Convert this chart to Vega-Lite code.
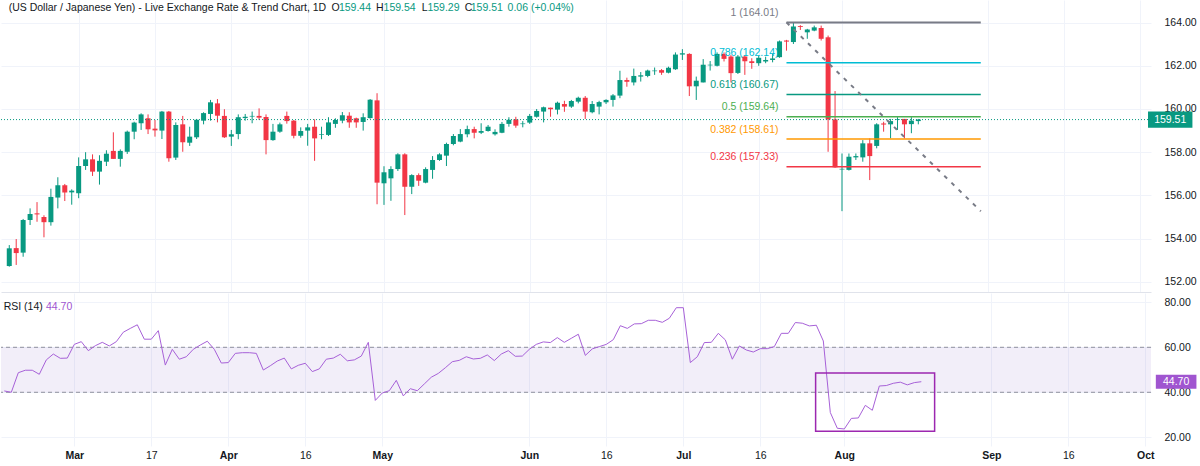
{
  "$schema": "https://vega.github.io/schema/vega-lite/v6.json",
  "background": "white",
  "padding": 0,
  "config": {
    "view": {"stroke": null},
    "concat": {"spacing": 1},
    "font": "Liberation Sans",
    "text": {"font": "Liberation Sans", "fontSize": 10.5},
    "axis": {"labelFont": "Liberation Sans", "labelFontSize": 10.5, "labelColor": "#131722", "ticks": false, "domain": false, "gridColor": "#f0f3fa"}
  },
  "datasets": {
    "candles": [
      {"i":0,"o":152.73,"h":153.70,"l":152.70,"c":153.55},
      {"i":1,"o":153.56,"h":153.98,"l":152.78,"c":153.33},
      {"i":2,"o":153.35,"h":154.91,"l":153.16,"c":154.86},
      {"i":3,"o":154.86,"h":155.40,"l":154.63,"c":155.14},
      {"i":4,"o":155.17,"h":155.69,"l":154.78,"c":155.12},
      {"i":5,"o":155.00,"h":155.08,"l":154.06,"c":154.76},
      {"i":6,"o":154.76,"h":156.31,"l":154.60,"c":155.93},
      {"i":7,"o":155.90,"h":156.84,"l":155.40,"c":156.47},
      {"i":8,"o":156.47,"h":156.53,"l":155.74,"c":156.14},
      {"i":9,"o":156.14,"h":156.28,"l":155.57,"c":156.22},
      {"i":10,"o":156.10,"h":157.76,"l":155.87,"c":157.36},
      {"i":11,"o":157.36,"h":158.00,"l":157.18,"c":157.67},
      {"i":12,"o":157.67,"h":157.90,"l":156.90,"c":157.10},
      {"i":13,"o":157.10,"h":157.86,"l":156.50,"c":157.60},
      {"i":14,"o":157.56,"h":158.09,"l":157.36,"c":157.93},
      {"i":15,"o":158.06,"h":158.92,"l":157.69,"c":157.69},
      {"i":16,"o":157.69,"h":158.13,"l":157.33,"c":158.06},
      {"i":17,"o":158.02,"h":159.00,"l":157.92,"c":158.95},
      {"i":18,"o":158.95,"h":159.41,"l":158.60,"c":159.37},
      {"i":19,"o":159.34,"h":159.80,"l":159.03,"c":159.75},
      {"i":20,"o":159.57,"h":159.75,"l":158.84,"c":159.06},
      {"i":21,"o":159.09,"h":159.49,"l":158.72,"c":159.01},
      {"i":22,"o":159.00,"h":159.91,"l":158.61,"c":159.88},
      {"i":23,"o":159.88,"h":159.91,"l":157.56,"c":157.72},
      {"i":24,"o":157.75,"h":159.38,"l":157.64,"c":159.26},
      {"i":25,"o":159.29,"h":159.68,"l":158.02,"c":158.46},
      {"i":26,"o":158.44,"h":159.18,"l":158.29,"c":158.72},
      {"i":27,"o":158.69,"h":159.54,"l":158.61,"c":159.50},
      {"i":28,"o":159.46,"h":159.85,"l":159.29,"c":159.81},
      {"i":29,"o":159.77,"h":160.42,"l":159.46,"c":160.31},
      {"i":30,"o":160.26,"h":160.46,"l":159.38,"c":159.69},
      {"i":31,"o":159.68,"h":159.99,"l":158.66,"c":158.69},
      {"i":32,"o":158.72,"h":159.03,"l":158.29,"c":158.83},
      {"i":33,"o":158.84,"h":159.75,"l":158.60,"c":159.62},
      {"i":34,"o":159.58,"h":159.77,"l":159.46,"c":159.64},
      {"i":35,"o":159.65,"h":159.88,"l":159.34,"c":159.68},
      {"i":36,"o":159.68,"h":160.03,"l":159.49,"c":159.60},
      {"i":37,"o":159.63,"h":159.75,"l":157.90,"c":158.56},
      {"i":38,"o":158.56,"h":159.31,"l":158.53,"c":158.95},
      {"i":39,"o":158.95,"h":159.37,"l":158.90,"c":159.29},
      {"i":40,"o":159.68,"h":159.88,"l":159.32,"c":159.44},
      {"i":41,"o":159.46,"h":159.49,"l":158.64,"c":158.76},
      {"i":42,"o":158.76,"h":159.15,"l":158.67,"c":158.98},
      {"i":43,"o":159.00,"h":159.31,"l":158.30,"c":159.15},
      {"i":44,"o":159.18,"h":159.52,"l":157.60,"c":158.64},
      {"i":45,"o":158.81,"h":159.18,"l":158.60,"c":158.84},
      {"i":46,"o":158.80,"h":159.62,"l":158.75,"c":159.38},
      {"i":47,"o":159.31,"h":159.57,"l":159.13,"c":159.49},
      {"i":48,"o":159.46,"h":159.86,"l":159.34,"c":159.71},
      {"i":49,"o":159.69,"h":159.85,"l":159.13,"c":159.38},
      {"i":50,"o":159.57,"h":159.60,"l":159.13,"c":159.38},
      {"i":51,"o":159.40,"h":159.80,"l":159.00,"c":159.62},
      {"i":52,"o":159.58,"h":160.46,"l":159.55,"c":160.43},
      {"i":53,"o":160.40,"h":160.73,"l":155.59,"c":156.59},
      {"i":54,"o":156.56,"h":157.35,"l":155.56,"c":157.07},
      {"i":55,"o":156.79,"h":157.35,"l":155.75,"c":157.22},
      {"i":56,"o":157.22,"h":157.95,"l":157.13,"c":157.90},
      {"i":57,"o":157.90,"h":157.95,"l":155.09,"c":156.40},
      {"i":58,"o":156.40,"h":156.98,"l":156.06,"c":156.94},
      {"i":59,"o":156.94,"h":157.02,"l":156.44,"c":156.68},
      {"i":60,"o":156.59,"h":157.30,"l":156.56,"c":157.22},
      {"i":61,"o":157.18,"h":157.82,"l":156.77,"c":157.64},
      {"i":62,"o":157.64,"h":157.95,"l":157.60,"c":157.90},
      {"i":63,"o":157.84,"h":158.44,"l":157.36,"c":158.38},
      {"i":64,"o":158.38,"h":158.84,"l":158.32,"c":158.75},
      {"i":65,"o":158.49,"h":159.07,"l":158.46,"c":158.84},
      {"i":66,"o":158.83,"h":159.23,"l":158.69,"c":159.07},
      {"i":67,"o":159.07,"h":159.18,"l":158.64,"c":158.90},
      {"i":68,"o":158.90,"h":159.34,"l":158.84,"c":158.98},
      {"i":69,"o":158.98,"h":159.26,"l":158.95,"c":159.18},
      {"i":70,"o":158.83,"h":159.06,"l":158.77,"c":158.94},
      {"i":71,"o":158.90,"h":159.40,"l":158.88,"c":159.31},
      {"i":72,"o":159.31,"h":159.62,"l":159.18,"c":159.50},
      {"i":73,"o":159.52,"h":159.64,"l":159.13,"c":159.23},
      {"i":74,"o":159.30,"h":159.44,"l":159.15,"c":159.33},
      {"i":75,"o":159.37,"h":159.77,"l":159.31,"c":159.68},
      {"i":76,"o":159.64,"h":160.00,"l":159.60,"c":159.91},
      {"i":77,"o":159.88,"h":160.11,"l":159.38,"c":160.08},
      {"i":78,"o":160.06,"h":160.06,"l":159.64,"c":159.99},
      {"i":79,"o":159.97,"h":160.34,"l":159.75,"c":160.29},
      {"i":80,"o":160.23,"h":160.38,"l":159.87,"c":160.11},
      {"i":81,"o":160.11,"h":160.42,"l":160.05,"c":160.37},
      {"i":82,"o":160.34,"h":160.57,"l":160.26,"c":160.52},
      {"i":83,"o":160.52,"h":160.60,"l":159.54,"c":159.88},
      {"i":84,"o":159.85,"h":160.37,"l":159.80,"c":160.23},
      {"i":85,"o":160.11,"h":160.38,"l":159.75,"c":160.32},
      {"i":86,"o":160.31,"h":160.45,"l":160.23,"c":160.42},
      {"i":87,"o":160.42,"h":160.69,"l":160.11,"c":160.63},
      {"i":88,"o":160.62,"h":161.77,"l":160.50,"c":161.34},
      {"i":89,"o":161.34,"h":161.45,"l":161.03,"c":161.26},
      {"i":90,"o":161.23,"h":161.87,"l":161.09,"c":161.53},
      {"i":91,"o":161.50,"h":161.71,"l":161.27,"c":161.56},
      {"i":92,"o":161.53,"h":161.82,"l":161.47,"c":161.78},
      {"i":93,"o":161.75,"h":161.92,"l":161.58,"c":161.78},
      {"i":94,"o":161.80,"h":161.85,"l":161.58,"c":161.68},
      {"i":95,"o":161.68,"h":161.96,"l":161.65,"c":161.91},
      {"i":96,"o":161.84,"h":162.62,"l":161.81,"c":162.52},
      {"i":97,"o":162.52,"h":162.77,"l":162.27,"c":162.58},
      {"i":98,"o":162.55,"h":162.58,"l":160.60,"c":161.05},
      {"i":99,"o":161.05,"h":161.50,"l":160.42,"c":161.31},
      {"i":100,"o":161.23,"h":162.31,"l":161.23,"c":162.05},
      {"i":101,"o":162.02,"h":162.22,"l":161.78,"c":162.05},
      {"i":102,"o":162.00,"h":162.62,"l":161.97,"c":162.55},
      {"i":103,"o":162.55,"h":162.62,"l":162.20,"c":162.32},
      {"i":104,"o":162.43,"h":162.50,"l":161.23,"c":161.66},
      {"i":105,"o":161.67,"h":162.50,"l":161.62,"c":162.43},
      {"i":106,"o":162.43,"h":162.50,"l":161.58,"c":162.21},
      {"i":107,"o":162.21,"h":162.35,"l":161.86,"c":162.13},
      {"i":108,"o":162.12,"h":162.47,"l":162.00,"c":162.37},
      {"i":109,"o":162.20,"h":162.42,"l":162.12,"c":162.27},
      {"i":110,"o":162.27,"h":162.55,"l":162.16,"c":162.34},
      {"i":111,"o":162.40,"h":163.17,"l":162.37,"c":163.13},
      {"i":112,"o":163.17,"h":163.20,"l":162.70,"c":163.12},
      {"i":113,"o":163.10,"h":164.01,"l":163.01,"c":163.82},
      {"i":114,"o":163.84,"h":163.88,"l":163.66,"c":163.80},
      {"i":115,"o":163.55,"h":163.71,"l":163.25,"c":163.68},
      {"i":116,"o":163.63,"h":163.86,"l":163.60,"c":163.78},
      {"i":117,"o":163.75,"h":163.86,"l":163.17,"c":163.25},
      {"i":118,"o":163.32,"h":163.40,"l":158.02,"c":159.52},
      {"i":119,"o":159.52,"h":160.83,"l":157.28,"c":157.30},
      {"i":120,"o":157.20,"h":157.94,"l":155.27,"c":157.23},
      {"i":121,"o":157.18,"h":157.94,"l":157.15,"c":157.79},
      {"i":122,"o":157.76,"h":157.94,"l":157.64,"c":157.82},
      {"i":123,"o":157.76,"h":158.56,"l":157.56,"c":158.41},
      {"i":124,"o":158.41,"h":158.64,"l":156.71,"c":157.82},
      {"i":125,"o":158.29,"h":159.34,"l":158.18,"c":159.29},
      {"i":126,"o":159.33,"h":159.41,"l":158.95,"c":159.28},
      {"i":127,"o":159.29,"h":159.54,"l":158.64,"c":159.44},
      {"i":128,"o":159.50,"h":159.62,"l":159.03,"c":159.53},
      {"i":129,"o":159.54,"h":159.54,"l":158.64,"c":159.29},
      {"i":130,"o":159.30,"h":159.62,"l":158.88,"c":159.46},
      {"i":131,"o":159.44,"h":159.54,"l":159.29,"c":159.51}
    ],
    "rsi": [
      {"i":0,"r":40.6},{"i":1,"r":40.0},{"i":2,"r":48.7},{"i":3,"r":49.8},{"i":4,"r":49.8},{"i":5,"r":48.0},
      {"i":6,"r":54.4},{"i":7,"r":57.0},{"i":8,"r":55.1},{"i":9,"r":55.2},{"i":10,"r":61.3},{"i":11,"r":62.5},
      {"i":12,"r":58.5},{"i":13,"r":60.7},{"i":14,"r":62.2},{"i":15,"r":60.6},{"i":16,"r":62.5},{"i":17,"r":66.7},
      {"i":18,"r":68.4},{"i":19,"r":70.0},{"i":20,"r":63.6},{"i":21,"r":63.6},{"i":22,"r":67.4},{"i":23,"r":52.1},
      {"i":24,"r":59.1},{"i":25,"r":54.7},{"i":26,"r":55.8},{"i":27,"r":59.1},{"i":28,"r":61.0},{"i":29,"r":62.7},
      {"i":30,"r":59.1},{"i":31,"r":53.0},{"i":32,"r":53.2},{"i":33,"r":57.3},{"i":34,"r":57.6},{"i":35,"r":57.6},
      {"i":36,"r":57.3},{"i":37,"r":49.9},{"i":38,"r":51.8},{"i":39,"r":53.9},{"i":40,"r":55.2},{"i":41,"r":50.4},
      {"i":42,"r":52.0},{"i":43,"r":52.9},{"i":44,"r":49.2},{"i":45,"r":50.4},{"i":46,"r":54.7},{"i":47,"r":55.2},
      {"i":48,"r":56.9},{"i":49,"r":54.0},{"i":50,"r":54.4},{"i":51,"r":56.1},{"i":52,"r":62.2},{"i":53,"r":36.4},
      {"i":54,"r":39.7},{"i":55,"r":40.7},{"i":56,"r":45.3},{"i":57,"r":38.4},{"i":58,"r":41.6},{"i":59,"r":40.7},
      {"i":60,"r":43.7},{"i":61,"r":46.7},{"i":62,"r":48.4},{"i":63,"r":50.9},{"i":64,"r":53.6},{"i":65,"r":54.2},
      {"i":66,"r":55.8},{"i":67,"r":54.8},{"i":68,"r":55.1},{"i":69,"r":56.6},{"i":70,"r":54.1},{"i":71,"r":57.0},
      {"i":72,"r":58.5},{"i":73,"r":56.0},{"i":74,"r":56.1},{"i":75,"r":59.1},{"i":76,"r":61.3},{"i":77,"r":62.4},
      {"i":78,"r":62.1},{"i":79,"r":64.3},{"i":80,"r":62.2},{"i":81,"r":64.0},{"i":82,"r":65.8},{"i":83,"r":56.4},
      {"i":84,"r":59.3},{"i":85,"r":60.3},{"i":86,"r":61.3},{"i":87,"r":63.4},{"i":88,"r":69.6},{"i":89,"r":68.4},
      {"i":90,"r":70.4},{"i":91,"r":70.5},{"i":92,"r":72.0},{"i":93,"r":72.0},{"i":94,"r":71.1},{"i":95,"r":72.9},
      {"i":96,"r":77.6},{"i":97,"r":77.6},{"i":98,"r":53.2},{"i":99,"r":55.8},{"i":100,"r":62.1},{"i":101,"r":62.2},
      {"i":102,"r":66.2},{"i":103,"r":63.3},{"i":104,"r":54.7},{"i":105,"r":60.6},{"i":106,"r":58.8},{"i":107,"r":57.9},
      {"i":108,"r":59.4},{"i":109,"r":59.4},{"i":110,"r":60.3},{"i":111,"r":66.2},{"i":112,"r":66.2},{"i":113,"r":71.0},
      {"i":114,"r":70.7},{"i":115,"r":69.5},{"i":116,"r":69.8},{"i":117,"r":62.8},{"i":118,"r":31.0},{"i":119,"r":24.0},
      {"i":120,"r":23.7},{"i":121,"r":28.4},{"i":122,"r":28.6},{"i":123,"r":34.2},{"i":124,"r":32.0},{"i":125,"r":42.8},
      {"i":126,"r":43.0},{"i":127,"r":44.0},{"i":128,"r":44.5},{"i":129,"r":43.3},{"i":130,"r":44.3},{"i":131,"r":44.7}
    ],
    "fib": [
      {"level":"1","p":164.01,"i":112,"i2":140,"label":"1 (164.01)"},
      {"level":"0.786","p":162.14,"i":112,"i2":140,"label":"0.786 (162.14)"},
      {"level":"0.618","p":160.67,"i":112,"i2":140,"label":"0.618 (160.67)"},
      {"level":"0.5","p":159.64,"i":112,"i2":140,"label":"0.5 (159.64)"},
      {"level":"0.382","p":158.61,"i":112,"i2":140,"label":"0.382 (158.61)"},
      {"level":"0.236","p":157.33,"i":112,"i2":140,"label":"0.236 (157.33)"}
    ],
    "trend": [{"i":112,"p":164.01},{"i":140,"p":155.27}],
    "last": [{"p":159.51,"i":164.1,"i2":170.5,"ic":167.3,"top":159.88,"bot":159.13,"t":"159.51"}],
    "legend": [
      {"t":"(US Dollar / Japanese Yen) - Live Exchange Rate & Trend Chart, 1D","i":-0.09,"p":164.66,"k":"name"},
      {"t":"O","i":46.43,"p":164.66,"k":"name"},
      {"t":"159.44","i":47.5,"p":164.66,"k":"val"},
      {"t":"H","i":52.86,"p":164.66,"k":"name"},
      {"t":"159.54","i":53.94,"p":164.66,"k":"val"},
      {"t":"L","i":59.43,"p":164.66,"k":"name"},
      {"t":"159.29","i":60.26,"p":164.66,"k":"val"},
      {"t":"C","i":65.63,"p":164.66,"k":"name"},
      {"t":"159.51","i":66.5,"p":164.66,"k":"val"},
      {"t":"0.06 (+0.04%)","i":71.81,"p":164.66,"k":"val"}
    ],
    "rsiLegend": [
      {"t":"RSI (14)","i":-0.09,"r":77.8,"k":"name"},
      {"t":"44.70","i":5.96,"r":77.8,"k":"val"}
    ],
    "rsiTag": [{"r":44.7,"i":164.5,"i2":170.3,"ic":167.4,"top":47.8,"bot":41.6,"t":"44.70"}],
    "rsiBox": [{"i":115.9,"i2":132.9,"top":48.6,"bot":22.7}],
    "levels": [{"r":40},{"r":60}],
    "band": [{"lo":40,"hi":60}]
  },
  "vconcat": [
    {
      "width": 1150,
      "height": 292,
      "layer": [
        {
          "data": {"name": "candles"},
          "mark": {"type": "rule", "strokeWidth": 1},
          "encoding": {
            "x": {"field": "i", "type": "quantitative", "title": null,
                  "scale": {"domain": [-0.471, 163.81], "nice": false, "zero": false},
                  "axis": {"values": [10,21,32,43,54,75,86,97,108,120,141,152,163], "labels": false, "grid": true, "domain": true, "domainColor": "#e0e3eb"}},
            "y": {"field": "l", "type": "quantitative", "title": null,
                  "scale": {"domain": [151.528, 165.046], "nice": false, "zero": false},
                  "axis": {"orient": "right", "values": [152,154,156,158,160,162,164], "format": ".2f", "labelPadding": 13, "grid": true}},
            "y2": {"field": "h"},
            "color": {"condition": {"test": "datum.c >= datum.o", "value": "#089981"}, "value": "#f23645"}
          }
        },
        {
          "data": {"name": "candles"},
          "mark": {"type": "bar", "size": 5},
          "encoding": {
            "x": {"field": "i", "type": "quantitative", "title": null},
            "y": {"field": "o", "type": "quantitative", "title": null},
            "y2": {"field": "c"},
            "color": {"condition": {"test": "datum.c >= datum.o", "value": "#089981"}, "value": "#f23645"}
          }
        },
        {
          "data": {"name": "last"},
          "mark": {"type": "rule", "color": "#089981", "strokeDash": [1, 2], "strokeWidth": 1},
          "encoding": {"y": {"field": "p", "type": "quantitative", "title": null}}
        },
        {
          "data": {"name": "fib"},
          "mark": {"type": "rule"},
          "encoding": {
            "x": {"field": "i", "type": "quantitative", "title": null},
            "x2": {"field": "i2"},
            "y": {"field": "p", "type": "quantitative", "title": null},
            "color": {"field": "level", "type": "nominal", "legend": null,
                      "scale": {"domain": ["1","0.786","0.618","0.5","0.382","0.236"], "range": ["#787b86","#00bcd4","#089981","#4caf50","#ff9800","#f23645"]}},
            "strokeWidth": {"condition": {"test": "datum.level == '1'", "value": 2}, "value": 1.5}
          }
        },
        {
          "data": {"name": "fib"},
          "mark": {"type": "text", "align": "right", "baseline": "middle", "dx": -8, "dy": -9.5, "fontSize": 10.5},
          "encoding": {
            "x": {"field": "i", "type": "quantitative", "title": null},
            "y": {"field": "p", "type": "quantitative", "title": null},
            "text": {"field": "label"},
            "color": {"field": "level", "type": "nominal", "legend": null}
          }
        },
        {
          "data": {"name": "trend"},
          "mark": {"type": "line", "color": "#787b86", "strokeDash": [4, 6], "strokeWidth": 2},
          "encoding": {
            "x": {"field": "i", "type": "quantitative", "title": null},
            "y": {"field": "p", "type": "quantitative", "title": null}
          }
        },
        {
          "data": {"name": "last"},
          "mark": {"type": "rect", "color": "#089981"},
          "encoding": {
            "x": {"field": "i", "type": "quantitative", "title": null},
            "x2": {"field": "i2"},
            "y": {"field": "top", "type": "quantitative", "title": null},
            "y2": {"field": "bot"}
          }
        },
        {
          "data": {"name": "last"},
          "mark": {"type": "text", "color": "white", "align": "center", "baseline": "middle", "fontSize": 10.5},
          "encoding": {
            "x": {"field": "ic", "type": "quantitative", "title": null},
            "y": {"field": "p", "type": "quantitative", "title": null},
            "text": {"field": "t"}
          }
        },
        {
          "data": {"name": "legend"},
          "mark": {"type": "text", "align": "left", "baseline": "middle", "fontSize": 10.5},
          "encoding": {
            "x": {"field": "i", "type": "quantitative", "title": null},
            "y": {"field": "p", "type": "quantitative", "title": null},
            "text": {"field": "t"},
            "color": {"condition": {"test": "datum.k == 'val'", "value": "#089981"}, "value": "#131722"}
          }
        }
      ]
    },
    {
      "width": 1150,
      "height": 153,
      "layer": [
        {
          "data": {"name": "band"},
          "mark": {"type": "rect", "color": "#7e57c2", "opacity": 0.1},
          "encoding": {
            "y": {"field": "lo", "type": "quantitative", "title": null,
                  "scale": {"domain": [16.13, 84.13], "nice": false, "zero": false},
                  "axis": {"orient": "right", "values": [20,40,60,80], "format": ".2f", "labelPadding": 13, "grid": true}},
            "y2": {"field": "hi"}
          }
        },
        {
          "data": {"name": "levels"},
          "mark": {"type": "rule", "color": "#787b86", "strokeDash": [4, 3], "strokeWidth": 1, "opacity": 0.8},
          "encoding": {"y": {"field": "r", "type": "quantitative", "title": null}}
        },
        {
          "data": {"name": "rsi"},
          "mark": {"type": "line", "color": "#a761d8", "strokeWidth": 1},
          "encoding": {
            "x": {"field": "i", "type": "quantitative", "title": null,
                  "scale": {"domain": [-0.471, 163.81], "nice": false, "zero": false},
                  "axis": {"values": [10,21,32,43,54,75,86,97,108,120,141,152,163],
                           "labelExpr": "['Mar','17','Apr','16','May','Jun','16','Jul','16','Aug','Sep','16','Oct'][indexof([10,21,32,43,54,75,86,97,108,120,141,152,163], datum.value)]",
                           "labelFontWeight": {"condition": {"test": "indexof([10,32,54,75,97,120,141,163], datum.value) >= 0", "value": "bold"}, "value": "normal"},
                           "labelPadding": 4, "labelOverlap": false, "labelFlush": false, "grid": true}},
            "y": {"field": "r", "type": "quantitative", "title": null}
          }
        },
        {
          "data": {"name": "rsiBox"},
          "mark": {"type": "rect", "fill": null, "fillOpacity": 0, "stroke": "#9c27b0", "strokeWidth": 1.5},
          "encoding": {
            "x": {"field": "i", "type": "quantitative", "title": null},
            "x2": {"field": "i2"},
            "y": {"field": "top", "type": "quantitative", "title": null},
            "y2": {"field": "bot"}
          }
        },
        {
          "data": {"name": "rsiTag"},
          "mark": {"type": "rect", "color": "#a055d0"},
          "encoding": {
            "x": {"field": "i", "type": "quantitative", "title": null},
            "x2": {"field": "i2"},
            "y": {"field": "top", "type": "quantitative", "title": null},
            "y2": {"field": "bot"}
          }
        },
        {
          "data": {"name": "rsiTag"},
          "mark": {"type": "text", "color": "white", "align": "center", "baseline": "middle", "fontSize": 10.5},
          "encoding": {
            "x": {"field": "ic", "type": "quantitative", "title": null},
            "y": {"field": "r", "type": "quantitative", "title": null},
            "text": {"field": "t"}
          }
        },
        {
          "data": {"name": "rsiLegend"},
          "mark": {"type": "text", "align": "left", "baseline": "middle", "fontSize": 10.5},
          "encoding": {
            "x": {"field": "i", "type": "quantitative", "title": null},
            "y": {"field": "r", "type": "quantitative", "title": null},
            "text": {"field": "t"},
            "color": {"condition": {"test": "datum.k == 'val'", "value": "#a055d0"}, "value": "#131722"}
          }
        }
      ]
    }
  ]
}
